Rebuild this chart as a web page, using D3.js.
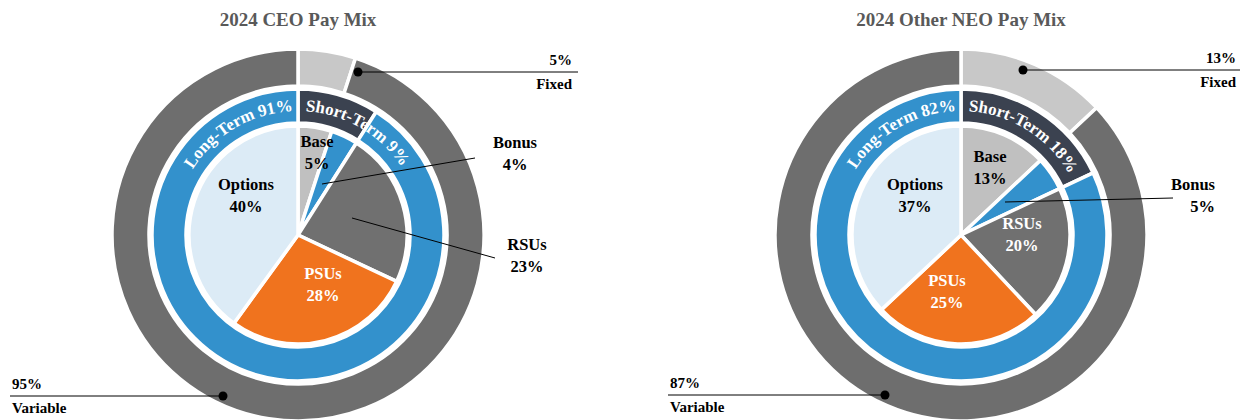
<!DOCTYPE html>
<html><head><meta charset="utf-8">
<script src="https://cdn.jsdelivr.net/npm/d3@7"></script>
<style>body{margin:0;background:#fff}text{font-family:"Liberation Serif","Times New Roman",serif;font-weight:bold}</style>
</head><body><svg id="c" width="1250" height="420"></svg>
<script>
const titles = ["2024 CEO Pay Mix", "2024 Other NEO Pay Mix"];
const outerLabels = ["Fixed", "Variable"];
const outerCEO = [5, 95], outerNEO = [13, 87];
const ringLabels = ["Short-Term", "Long-Term"];
const ringCEO = [9, 91], ringNEO = [18, 82];
const pieLabels = ["Base", "Bonus", "RSUs", "PSUs", "Options"];
const pieCEO = [5, 4, 23, 28, 40], pieNEO = [13, 5, 20, 25, 37];

const outerColors = ["#c8c8c8", "#6e6e6e"];
const ringColors = ["#3b4250", "#3391cc"];
const pieColors = ["#c0c0c0", "#3391cc", "#707070", "#f0731e", "#dcebf6"];

const svg = d3.select("#c");
const charts = [
  {cx:298, cy:235, title:titles[0], outer:outerCEO, ring:ringCEO, pie:pieCEO,
   inner:{Base:[19,-88,"#000"], Options:[-52,-45,"#000"], PSUs:[25,44,"#fff"]},
   leaders:[
     {lab:"Bonus", v:pieCEO[1], from:[24,-51], to:[177,-77], tx:[217,-87], anchor:"middle"},
     {lab:"RSUs", v:pieCEO[2], from:[54,-17], to:[197,23], tx:[229,15], anchor:"middle"}],
   fixed:{dot:[60,-163], end:[280,-163], tx:274},
   varl:{dot:[-75,161], start:[-288,161], tx:-286}},
  {cx:961, cy:235, title:titles[1], outer:outerNEO, ring:ringNEO, pie:pieNEO,
   inner:{Base:[29,-73,"#000"], Options:[-46,-45,"#000"], RSUs:[61,-6,"#fff"], PSUs:[-14,51,"#fff"]},
   leaders:[
     {lab:"Bonus", v:pieNEO[1], from:[44,-33], to:[212,-37], tx:[254,-45], anchor:"end"}],
   fixed:{dot:[62,-165], end:[279,-165], tx:275},
   varl:{dot:[-76,160], start:[-293,160], tx:-291}}
];

charts.forEach((c, ci) => {
  const g = svg.append("g").attr("transform", `translate(${c.cx},${c.cy})`);
  svg.append("text").attr("x", c.cx).attr("y", 26).attr("text-anchor","middle")
    .attr("font-size", 19).attr("fill", "#595959").text(c.title);
  const pie = d3.pie().sort(null);
  const draw = (vals, colors, r0, r1) => {
    const arc = d3.arc().innerRadius(r0).outerRadius(r1);
    g.append("g").selectAll("path").data(pie(vals)).join("path")
      .attr("d", arc).attr("fill", (d,i)=>colors[i]).attr("stroke","#fff").attr("stroke-width",3.5);
  };
  draw(c.outer, outerColors, 149, 186);
  draw(c.ring, ringColors, 112, 146);
  draw(c.pie, pieColors, 0, 109);

  const rt = 124;
  const pathArc = (a0, a1) => {
    const p = d3.path();
    p.arc(0, 0, rt, a0 - Math.PI/2, a1 - Math.PI/2, false);
    return p.toString();
  };
  g.append("path").attr("id","sp"+ci).attr("d", pathArc(0.06, 1.6)).attr("fill","none");
  g.append("path").attr("id","lp"+ci).attr("d", pathArc(-1.6, -0.04)).attr("fill","none");
  g.append("text").attr("font-size",17).attr("fill","#fff")
    .append("textPath").attr("href","#sp"+ci).text(`${ringLabels[0]} ${c.ring[0]}%`);
  g.append("text").attr("font-size",17).attr("fill","#fff").attr("text-anchor","end")
    .append("textPath").attr("href","#lp"+ci).attr("startOffset","100%").text(`${ringLabels[1]} ${c.ring[1]}%`);

  Object.entries(c.inner).forEach(([k,[x,y,col]]) => {
    const i = pieLabels.indexOf(k);
    const t = g.append("text").attr("text-anchor","middle").attr("font-size",16.5).attr("fill",col);
    t.append("tspan").attr("x",x).attr("y",y).text(k);
    t.append("tspan").attr("x",x).attr("y",y+22).text(c.pie[i]+"%");
  });

  c.leaders.forEach(l => {
    g.append("line").attr("x1",l.from[0]).attr("y1",l.from[1]).attr("x2",l.to[0]).attr("y2",l.to[1])
      .attr("stroke","#000").attr("stroke-width",1);
    const t = g.append("text").attr("text-anchor",l.anchor).attr("font-size",16.5);
    t.append("tspan").attr("x",l.tx[0]).attr("y",l.tx[1]).text(l.lab);
    t.append("tspan").attr("x",l.tx[0]).attr("y",l.tx[1]+22).text(l.v+"%");
  });

  const f = c.fixed;
  g.append("line").attr("x1",f.dot[0]).attr("y1",f.dot[1]).attr("x2",f.end[0]).attr("y2",f.dot[1]).attr("stroke","#000");
  g.append("circle").attr("cx",f.dot[0]).attr("cy",f.dot[1]).attr("r",4.5).attr("fill","#000");
  g.append("text").attr("x",f.tx).attr("y",f.dot[1]-7).attr("text-anchor","end").attr("font-size",15).text(c.outer[0]+"%");
  g.append("text").attr("x",f.tx).attr("y",f.dot[1]+17).attr("text-anchor","end").attr("font-size",15).text(outerLabels[0]);
  const v = c.varl;
  g.append("line").attr("x1",v.start[0]).attr("y1",v.dot[1]).attr("x2",v.dot[0]).attr("y2",v.dot[1]).attr("stroke","#000");
  g.append("circle").attr("cx",v.dot[0]).attr("cy",v.dot[1]).attr("r",4.5).attr("fill","#000");
  g.append("text").attr("x",v.tx).attr("y",v.dot[1]-7).attr("font-size",15).text(c.outer[1]+"%");
  g.append("text").attr("x",v.tx).attr("y",v.dot[1]+17).attr("font-size",15).text(outerLabels[1]);
});
</script></body></html>
